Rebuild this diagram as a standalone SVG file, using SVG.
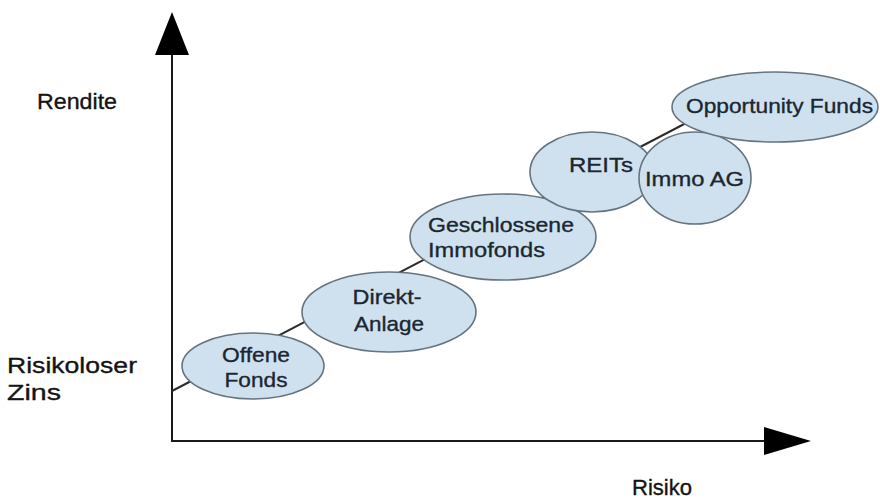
<svg xmlns="http://www.w3.org/2000/svg" width="880" height="502" viewBox="0 0 880 502">
  <style>
    .axis { stroke: #1a1a1a; stroke-width: 2; fill: none; }
    .trend { stroke: #2b2b2b; stroke-width: 2; fill: none; }
    .bubble { fill: #cfe1ef; stroke: #66747f; stroke-width: 1.6; }
    .lbl { font-family: "Liberation Sans", Arial, sans-serif; font-size: 21px; fill: #1b2730; stroke: #1b2730; stroke-width: 0.35; }
    .ax { font-family: "Liberation Sans", Arial, sans-serif; font-size: 22px; fill: #141414; stroke: #141414; stroke-width: 0.35; }
  </style>
  <rect width="880" height="502" fill="#ffffff"/>

  <!-- axes with filled triangular heads -->
  <g id="axes">
    <line class="axis" x1="172" y1="441" x2="172" y2="52"/>
    <polygon points="172,12 155,55 189,55" fill="#000"/>
    <line class="axis" x1="171" y1="441" x2="766" y2="441"/>
    <polygon points="811,441 764,427 764,455" fill="#000"/>
  </g>

  <!-- connectors: trend line through the bubbles -->
  <g id="connectors">
    <line class="trend" x1="172" y1="391" x2="690" y2="121"/>
  </g>

  <g id="offene-fonds">
    <ellipse class="bubble" cx="253" cy="366" rx="71" ry="33"/>
    <text class="lbl" x="256" y="362" text-anchor="middle" textLength="68" lengthAdjust="spacingAndGlyphs">Offene</text>
    <text class="lbl" x="256" y="387" text-anchor="middle" textLength="63" lengthAdjust="spacingAndGlyphs">Fonds</text>
  </g>

  <g id="direkt-anlage">
    <ellipse class="bubble" cx="389" cy="312" rx="87" ry="40"/>
    <text class="lbl" x="387" y="304" text-anchor="middle" textLength="69" lengthAdjust="spacingAndGlyphs">Direkt-</text>
    <text class="lbl" x="389" y="331" text-anchor="middle" textLength="70" lengthAdjust="spacingAndGlyphs">Anlage</text>
  </g>

  <g id="geschlossene-immofonds">
    <ellipse class="bubble" cx="503" cy="237" rx="93" ry="43"/>
    <text class="lbl" x="428" y="232" textLength="146" lengthAdjust="spacingAndGlyphs">Geschlossene</text>
    <text class="lbl" x="428" y="257" textLength="117" lengthAdjust="spacingAndGlyphs">Immofonds</text>
  </g>

  <g id="reits">
    <ellipse class="bubble" cx="592" cy="172" rx="62" ry="40"/>
    <text class="lbl" x="569" y="172" textLength="64" lengthAdjust="spacingAndGlyphs">REITs</text>
  </g>

  <g id="immo-ag">
    <ellipse class="bubble" cx="695" cy="178" rx="56" ry="46"/>
    <text class="lbl" x="645" y="186" textLength="99" lengthAdjust="spacingAndGlyphs">Immo AG</text>
  </g>

  <g id="opportunity-funds">
    <ellipse class="bubble" cx="775" cy="107" rx="103" ry="35"/>
    <text class="lbl" x="686" y="113" textLength="187" lengthAdjust="spacingAndGlyphs">Opportunity Funds</text>
  </g>

  <!-- axis captions -->
  <g id="captions">
    <text class="ax" x="37" y="109" textLength="80" lengthAdjust="spacingAndGlyphs">Rendite</text>
    <text class="ax" x="7" y="373" textLength="130" lengthAdjust="spacingAndGlyphs">Risikoloser</text>
    <text class="ax" x="7" y="400" textLength="54" lengthAdjust="spacingAndGlyphs">Zins</text>
    <text class="ax" x="632" y="495" textLength="60" lengthAdjust="spacingAndGlyphs">Risiko</text>
  </g>
</svg>
